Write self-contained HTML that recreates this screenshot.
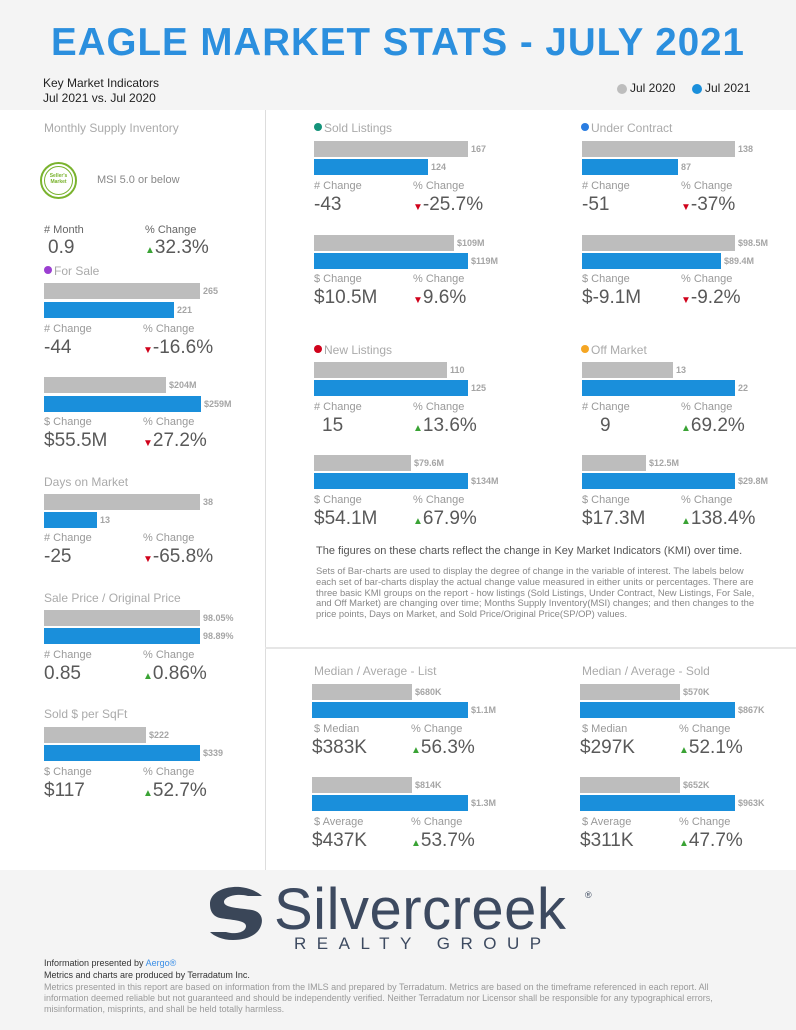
<!DOCTYPE html>
<html><head><meta charset="utf-8"><style>
*{margin:0;padding:0;box-sizing:border-box}
body{width:796px;height:1030px;position:relative;background:#fff;font-family:"Liberation Sans",sans-serif;overflow:hidden}
div,span{position:absolute;white-space:nowrap}
.t{font-size:12px;color:#aaa}
.l{font-size:11px;color:#999}
.v{font-size:19px;color:#595959}
.g{background:#bdbdbd;height:16px}
.c{background:#1a8fdb;height:16px}
.n{font-size:9px;font-weight:bold;color:#a5a5a5}
.up{color:#3aa335;font-size:10px}
.dn{color:#d0021b;font-size:10px}
.dot{width:8px;height:8px;border-radius:50%}
</style></head><body>
<div style="left:0;top:0;width:796px;height:110px;background:#f4f4f4"></div>
<div style="left:0;top:21px;width:796px;text-align:center;font-size:38.5px;font-weight:bold;color:#2b8fde;letter-spacing:1px">EAGLE MARKET STATS - JULY 2021</div>
<div style="left:43px;top:76px;font-size:12px;color:#222">Key Market Indicators</div>
<div style="left:43px;top:91px;font-size:12px;color:#222">Jul 2021 vs. Jul 2020</div>
<div class="dot" style="left:617px;top:84px;width:10px;height:10px;background:#bdbdbd"></div>
<div style="left:630px;top:81px;font-size:12px;color:#222">Jul 2020</div>
<div class="dot" style="left:692px;top:84px;width:10px;height:10px;background:#1a8fdb"></div>
<div style="left:705px;top:81px;font-size:12px;color:#222">Jul 2021</div>
<div style="left:265px;top:110px;width:1px;height:760px;background:#ddd"></div>
<div style="left:265px;top:647px;width:531px;height:2px;background:#e6e6e6"></div>

<!-- left column -->
<div class="t" style="left:44px;top:121px">Monthly Supply Inventory</div>
<div style="left:40px;top:162px;width:37px;height:37px;border:2px solid #7ab32e;border-radius:50%"></div>
<div style="left:44px;top:166px;width:29px;height:29px;border:1px solid #7ab32e;border-radius:50%"></div>
<div style="left:44px;top:173px;width:29px;text-align:center;font-size:5px;font-weight:bold;color:#7ab32e;line-height:6px">Seller's<br>Market</div>
<div style="left:97px;top:174px;font-size:11px;color:#888">MSI 5.0 or below</div>
<div class="l" style="left:44px;top:224px;color:#666"># Month</div>
<div class="v" style="left:48px;top:237px">0.9</div>
<div class="l" style="left:145px;top:224px;color:#666">% Change</div>
<div class="v" style="left:145px;top:237px"><span class="up" style="position:static">▲</span>32.3%</div>
<div class="dot" style="left:44px;top:266px;background:#9b3fd1"></div>
<div class="t" style="left:54px;top:264px">For Sale</div>
<div class="g" style="left:44px;top:283px;width:156px"></div><div class="n" style="left:203px;top:286px">265</div>
<div class="c" style="left:44px;top:302px;width:130px"></div><div class="n" style="left:177px;top:305px">221</div>
<div class="l" style="left:44px;top:323px"># Change</div>
<div class="v" style="left:44px;top:337px">-44</div>
<div class="l" style="left:143px;top:323px">% Change</div>
<div class="v" style="left:143px;top:337px"><span class="dn" style="position:static">▼</span>-16.6%</div>
<div class="g" style="left:44px;top:377px;width:122px"></div><div class="n" style="left:169px;top:380px">$204M</div>
<div class="c" style="left:44px;top:396px;width:157px"></div><div class="n" style="left:204px;top:399px">$259M</div>
<div class="l" style="left:44px;top:416px">$ Change</div>
<div class="v" style="left:44px;top:430px">$55.5M</div>
<div class="l" style="left:143px;top:416px">% Change</div>
<div class="v" style="left:143px;top:430px"><span class="dn" style="position:static">▼</span>27.2%</div>
<div class="t" style="left:44px;top:475px">Days on Market</div>
<div class="g" style="left:44px;top:494px;width:156px"></div><div class="n" style="left:203px;top:497px">38</div>
<div class="c" style="left:44px;top:512px;width:53px"></div><div class="n" style="left:100px;top:515px">13</div>
<div class="l" style="left:44px;top:532px"># Change</div>
<div class="v" style="left:44px;top:546px">-25</div>
<div class="l" style="left:143px;top:532px">% Change</div>
<div class="v" style="left:143px;top:546px"><span class="dn" style="position:static">▼</span>-65.8%</div>
<div class="t" style="left:44px;top:591px">Sale Price / Original Price</div>
<div class="g" style="left:44px;top:610px;width:156px"></div><div class="n" style="left:203px;top:613px">98.05%</div>
<div class="c" style="left:44px;top:628px;width:156px"></div><div class="n" style="left:203px;top:631px">98.89%</div>
<div class="l" style="left:44px;top:649px"># Change</div>
<div class="v" style="left:44px;top:663px">0.85</div>
<div class="l" style="left:143px;top:649px">% Change</div>
<div class="v" style="left:143px;top:663px"><span class="up" style="position:static">▲</span>0.86%</div>
<div class="t" style="left:44px;top:707px">Sold $ per SqFt</div>
<div class="g" style="left:44px;top:727px;width:102px"></div><div class="n" style="left:149px;top:730px">$222</div>
<div class="c" style="left:44px;top:745px;width:156px"></div><div class="n" style="left:203px;top:748px">$339</div>
<div class="l" style="left:44px;top:766px">$ Change</div>
<div class="v" style="left:44px;top:780px">$117</div>
<div class="l" style="left:143px;top:766px">% Change</div>
<div class="v" style="left:143px;top:780px"><span class="up" style="position:static">▲</span>52.7%</div>

<!-- Sold Listings -->
<div class="dot" style="left:314px;top:123px;background:#14937a"></div>
<div class="t" style="left:324px;top:121px">Sold Listings</div>
<div class="g" style="left:314px;top:141px;width:154px"></div><div class="n" style="left:471px;top:144px">167</div>
<div class="c" style="left:314px;top:159px;width:114px"></div><div class="n" style="left:431px;top:162px">124</div>
<div class="l" style="left:314px;top:180px"># Change</div><div class="v" style="left:314px;top:194px">-43</div>
<div class="l" style="left:413px;top:180px">% Change</div><div class="v" style="left:413px;top:194px"><span class="dn" style="position:static">▼</span>-25.7%</div>
<div class="g" style="left:314px;top:235px;width:140px"></div><div class="n" style="left:457px;top:238px">$109M</div>
<div class="c" style="left:314px;top:253px;width:154px"></div><div class="n" style="left:471px;top:256px">$119M</div>
<div class="l" style="left:314px;top:273px">$ Change</div><div class="v" style="left:314px;top:287px">$10.5M</div>
<div class="l" style="left:413px;top:273px">% Change</div><div class="v" style="left:413px;top:287px"><span class="dn" style="position:static">▼</span>9.6%</div>

<!-- Under Contract -->
<div class="dot" style="left:581px;top:123px;background:#2a7de1"></div>
<div class="t" style="left:591px;top:121px">Under Contract</div>
<div class="g" style="left:582px;top:141px;width:153px"></div><div class="n" style="left:738px;top:144px">138</div>
<div class="c" style="left:582px;top:159px;width:96px"></div><div class="n" style="left:681px;top:162px">87</div>
<div class="l" style="left:582px;top:180px"># Change</div><div class="v" style="left:582px;top:194px">-51</div>
<div class="l" style="left:681px;top:180px">% Change</div><div class="v" style="left:681px;top:194px"><span class="dn" style="position:static">▼</span>-37%</div>
<div class="g" style="left:582px;top:235px;width:153px"></div><div class="n" style="left:738px;top:238px">$98.5M</div>
<div class="c" style="left:582px;top:253px;width:139px"></div><div class="n" style="left:724px;top:256px">$89.4M</div>
<div class="l" style="left:582px;top:273px">$ Change</div><div class="v" style="left:582px;top:287px">$-9.1M</div>
<div class="l" style="left:681px;top:273px">% Change</div><div class="v" style="left:681px;top:287px"><span class="dn" style="position:static">▼</span>-9.2%</div>

<!-- New Listings -->
<div class="dot" style="left:314px;top:345px;background:#d0021b"></div>
<div class="t" style="left:324px;top:343px">New Listings</div>
<div class="g" style="left:314px;top:362px;width:133px"></div><div class="n" style="left:450px;top:365px">110</div>
<div class="c" style="left:314px;top:380px;width:154px"></div><div class="n" style="left:471px;top:383px">125</div>
<div class="l" style="left:314px;top:401px"># Change</div><div class="v" style="left:322px;top:415px">15</div>
<div class="l" style="left:413px;top:401px">% Change</div><div class="v" style="left:413px;top:415px"><span class="up" style="position:static">▲</span>13.6%</div>
<div class="g" style="left:314px;top:455px;width:97px"></div><div class="n" style="left:414px;top:458px">$79.6M</div>
<div class="c" style="left:314px;top:473px;width:154px"></div><div class="n" style="left:471px;top:476px">$134M</div>
<div class="l" style="left:314px;top:494px">$ Change</div><div class="v" style="left:314px;top:508px">$54.1M</div>
<div class="l" style="left:413px;top:494px">% Change</div><div class="v" style="left:413px;top:508px"><span class="up" style="position:static">▲</span>67.9%</div>

<!-- Off Market -->
<div class="dot" style="left:581px;top:345px;background:#f5a623"></div>
<div class="t" style="left:591px;top:343px">Off Market</div>
<div class="g" style="left:582px;top:362px;width:91px"></div><div class="n" style="left:676px;top:365px">13</div>
<div class="c" style="left:582px;top:380px;width:153px"></div><div class="n" style="left:738px;top:383px">22</div>
<div class="l" style="left:582px;top:401px"># Change</div><div class="v" style="left:600px;top:415px">9</div>
<div class="l" style="left:681px;top:401px">% Change</div><div class="v" style="left:681px;top:415px"><span class="up" style="position:static">▲</span>69.2%</div>
<div class="g" style="left:582px;top:455px;width:64px"></div><div class="n" style="left:649px;top:458px">$12.5M</div>
<div class="c" style="left:582px;top:473px;width:153px"></div><div class="n" style="left:738px;top:476px">$29.8M</div>
<div class="l" style="left:582px;top:494px">$ Change</div><div class="v" style="left:582px;top:508px">$17.3M</div>
<div class="l" style="left:681px;top:494px">% Change</div><div class="v" style="left:681px;top:508px"><span class="up" style="position:static">▲</span>138.4%</div>

<div style="left:316px;top:545px;font-size:11px;color:#555">The figures on these charts reflect the change in Key Market Indicators (KMI) over time.</div>
<div style="left:316px;top:566px;width:448px;white-space:normal;font-size:9.4px;line-height:10.8px;color:#888">Sets of Bar-charts are used to display the degree of change in the variable of interest. The labels below each set of bar-charts display the actual change value measured in either units or percentages. There are three basic KMI groups on the report - how listings (Sold Listings, Under Contract, New Listings, For Sale, and Off Market) are changing over time; Months Supply Inventory(MSI) changes; and then changes to the price points, Days on Market, and Sold Price/Original Price(SP/OP) values.</div>

<!-- Median List -->
<div class="t" style="left:314px;top:664px">Median / Average - List</div>
<div class="g" style="left:312px;top:684px;width:100px"></div><div class="n" style="left:415px;top:687px">$680K</div>
<div class="c" style="left:312px;top:702px;width:156px"></div><div class="n" style="left:471px;top:705px">$1.1M</div>
<div class="l" style="left:314px;top:723px">$ Median</div><div class="v" style="left:312px;top:737px">$383K</div>
<div class="l" style="left:411px;top:723px">% Change</div><div class="v" style="left:411px;top:737px"><span class="up" style="position:static">▲</span>56.3%</div>
<div class="g" style="left:312px;top:777px;width:100px"></div><div class="n" style="left:415px;top:780px">$814K</div>
<div class="c" style="left:312px;top:795px;width:156px"></div><div class="n" style="left:471px;top:798px">$1.3M</div>
<div class="l" style="left:314px;top:816px">$ Average</div><div class="v" style="left:312px;top:830px">$437K</div>
<div class="l" style="left:411px;top:816px">% Change</div><div class="v" style="left:411px;top:830px"><span class="up" style="position:static">▲</span>53.7%</div>

<!-- Median Sold -->
<div class="t" style="left:582px;top:664px">Median / Average - Sold</div>
<div class="g" style="left:580px;top:684px;width:100px"></div><div class="n" style="left:683px;top:687px">$570K</div>
<div class="c" style="left:580px;top:702px;width:155px"></div><div class="n" style="left:738px;top:705px">$867K</div>
<div class="l" style="left:582px;top:723px">$ Median</div><div class="v" style="left:580px;top:737px">$297K</div>
<div class="l" style="left:679px;top:723px">% Change</div><div class="v" style="left:679px;top:737px"><span class="up" style="position:static">▲</span>52.1%</div>
<div class="g" style="left:580px;top:777px;width:100px"></div><div class="n" style="left:683px;top:780px">$652K</div>
<div class="c" style="left:580px;top:795px;width:155px"></div><div class="n" style="left:738px;top:798px">$963K</div>
<div class="l" style="left:582px;top:816px">$ Average</div><div class="v" style="left:580px;top:830px">$311K</div>
<div class="l" style="left:679px;top:816px">% Change</div><div class="v" style="left:679px;top:830px"><span class="up" style="position:static">▲</span>47.7%</div>

<!-- footer -->
<div style="left:0;top:870px;width:796px;height:160px;background:#f4f4f4"></div>
<svg style="position:absolute;left:200px;top:884px" width="70" height="60" viewBox="0 0 70 60">
<path d="M10 20 C10 8 25 2 40 3 C50 4 58 8 62 12 L48 12 C38 9 24 12 24 18 C24 24 40 24 52 26 C62 28 64 36 60 44 C56 52 45 56 33 56 C22 56 14 52 10 48 L26 48 C36 51 46 48 46 42 C46 36 30 36 20 34 C12 32 10 26 10 20Z" fill="#3a4658"/>
</svg>
<div style="left:274px;top:876px;font-size:58px;color:#3d4a60;letter-spacing:0.5px">Silvercreek</div>
<div style="left:585px;top:890px;font-size:9px;color:#3d4a60">®</div>
<div style="left:294px;top:934px;font-size:17px;color:#3d4a60;letter-spacing:10.5px">REALTY GROUP</div>
<div style="left:44px;top:958px;font-size:9px;color:#333">Information presented by <span style="position:static;color:#3a8ee6">Aergo®</span></div>
<div style="left:44px;top:970px;font-size:9px;color:#333">Metrics and charts are produced by Terradatum Inc.</div>
<div style="left:44px;top:982px;width:700px;white-space:normal;font-size:9px;line-height:11px;color:#999">Metrics presented in this report are based on information from the IMLS and prepared by Terradatum. Metrics are based on the timeframe referenced in each report. All information deemed reliable but not guaranteed and should be independently verified. Neither Terradatum nor Licensor shall be responsible for any typographical errors, misinformation, misprints, and shall be held totally harmless.</div>
</body></html>
